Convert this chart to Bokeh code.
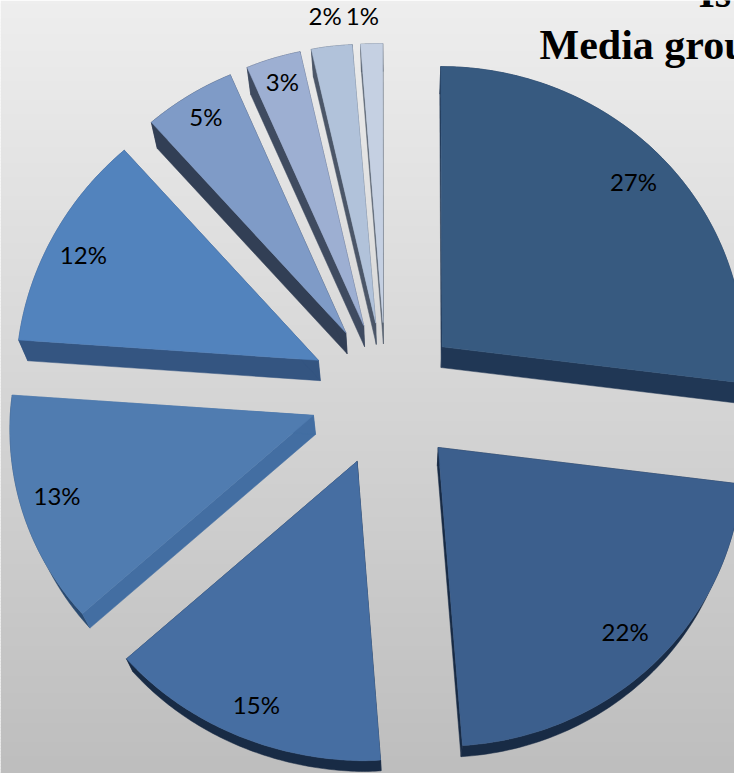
from math import cos, pi, radians, sin

import numpy as np
from bokeh.core.properties import value
from bokeh.embed import file_html
from bokeh.models import Range1d
from bokeh.plotting import figure
from bokeh.resources import INLINE

# Share of each media group, clockwise from twelve o'clock
shares = [27, 22, 15, 13, 12, 5, 3, 2, 1]
percent_labels = ["27%", "22%", "15%", "13%", "12%", "5%", "3%", "2%", "1%"]

# Face and side colours per slice
face_colors = ["#375a80", "#3c5f8d", "#466ea2", "#507cb0", "#5283bd",
               "#7f9bc7", "#9dafd2", "#b1c2da", "#c5d0e2"]
radial_side_colors = ["#203755", "#182b45", "#182b45", "#436ea2", "#345581",
                      "#323f55", "#3f4b60", "#4b5668", "#5a6472"]
arc_side_colors = ["#203755", "#182b45", "#182b45", "#2a4a70", "#345581",
                   "#323f55", "#3f4b60", "#4b5668", "#5a6472"]

# Label placement along and around each slice's middle direction
label_distance = [0.86, 0.87, 0.895, 0.883, 0.87, 0.89, 0.895, 1.10, 1.09]
label_turn_deg = [0, 0, 0, 0, -2, 0, 0, 0, -1.2]

# Projection of the tilted pie onto the page
WIDTH, HEIGHT = 734, 773
CENTER_X, CENTER_Y = 385, 394
RADIUS = 303
SQUASH = 0.955
PERSPECTIVE = 0.0236
SAG = 11
LEAN = 8
BOTTOM_LEAN = 3.5
EXPLODE = 0.25
VANISH_X, VANISH_Y = 400, 1210
DEPTH = 0.024
LABEL_RISE = 4


def project(px, py):
    scale = 1 - PERSPECTIVE * py
    left = max(-px, 0.0)
    lean = -LEAN * py * min(1.0, left * 6) - BOTTOM_LEAN * min(py, 0.0)
    return (CENTER_X + px * RADIUS * scale + lean,
            CENTER_Y - py * SQUASH * RADIUS * scale + SAG * left * left)


def extrude(x, y):
    return x + (VANISH_X - x) * DEPTH, y + (VANISH_Y - y) * DEPTH


p = figure(width=WIDTH, height=HEIGHT, output_backend="svg", toolbar_location=None,
           x_range=Range1d(0, WIDTH), y_range=Range1d(HEIGHT, 0),
           min_border=0, outline_line_color=None)
p.axis.visible = False
p.grid.visible = False

# Page background: vertical grey fade
rows = np.arange(0, HEIGHT, 3)
greys = np.linspace(238, 190, len(rows)).astype(int)
p.quad(left=0, right=WIDTH, top=rows, bottom=rows + 5,
       fill_color=[f"#{g:02x}{g:02x}{g:02x}" for g in greys], line_color=None)

edges = np.cumsum([0] + shares) / sum(shares) * 2 * pi
for i, share in enumerate(shares):
    start, end = edges[i], edges[i + 1]
    mid = (start + end) / 2
    ox, oy = EXPLODE * sin(mid), EXPLODE * cos(mid)
    angles = np.linspace(start, end, 80)

    apex = project(ox, oy)
    arc = [project(ox + sin(a), oy + cos(a)) for a in angles]
    outline = [apex] + arc

    # Rim and cut faces first, so the top face covers their hidden parts
    low_arc = [extrude(*pt) for pt in arc]
    rim = arc + low_arc[::-1]
    p.patch([q[0] for q in rim], [q[1] for q in rim],
            fill_color=arc_side_colors[i], line_color=arc_side_colors[i], line_width=0.5)
    for tip in (arc[0], arc[-1]):
        quad = [apex, tip, extrude(*tip), extrude(*apex)]
        p.patch([q[0] for q in quad], [q[1] for q in quad],
                fill_color=radial_side_colors[i], line_color=radial_side_colors[i], line_width=0.5)

    p.patch([q[0] for q in outline], [q[1] for q in outline],
            fill_color=face_colors[i], line_color=face_colors[i], line_width=0.5)

    turned = mid + radians(label_turn_deg[i])
    lx, ly = project(ox + label_distance[i] * sin(turned), oy + label_distance[i] * cos(turned))
    p.text([lx], [ly - LABEL_RISE], text=[percent_labels[i]], text_font=value("Lato"),
           text_font_size="24px", text_color="#000000",
           text_align="center", text_baseline="middle")

# Heading, running past the page edge
p.text([539], [44], text=["Media grou"], text_font=value("Liberation Serif"),
       text_font_size="42px", text_font_style="bold", text_color="#000000",
       text_align="left", text_baseline="alphabetic")
p.text([698], [-8], text=["Is"], text_font=value("Liberation Serif"),
       text_font_size="42px", text_font_style="bold", text_color="#000000",
       text_align="left", text_baseline="alphabetic")

open("out.html", "w").write(file_html(p, INLINE))
